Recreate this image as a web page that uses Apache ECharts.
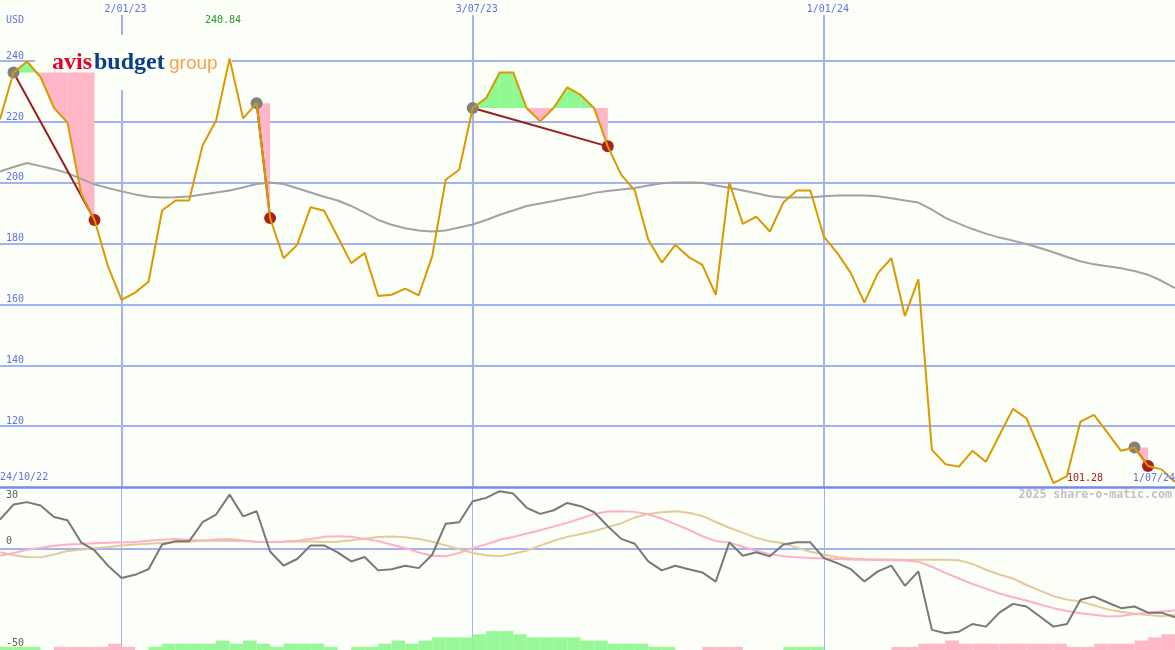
<!DOCTYPE html>
<html><head><meta charset="utf-8">
<script src="https://cdn.jsdelivr.net/npm/echarts@6/dist/echarts.min.js"></script>
<style>html,body{margin:0;padding:0;background:#fcfef8}#c{width:1175px;height:650px}</style>
</head><body><div id="c"></div>
<script>
// ---- data (weekly closes, Avis Budget Group, USD) ----
const weekCount = 88;
const weeks = Array.from({length: weekCount}, (_, i) => {
  const d = new Date(Date.UTC(2022, 9, 31 + 7 * i));
  return d.getUTCDate() + '/' + String(d.getUTCMonth() + 1).padStart(2, '0') + '/' + String(d.getUTCFullYear()).slice(2);
});
const dateMarkIdx = [9, 35, 61];

const price = [220.9,236.3,239.9,234.8,224.6,219.8,196.6,187.8,172.5,161.5,
  163.9,167.5,190.9,194.2,194.2,212.3,220.5,240.84,221.2,226.2,
  188.4,175.2,179.6,192.0,190.8,182.3,173.6,176.9,162.8,163.2,
  165.2,163.0,175.8,201.0,204.3,224.6,227.9,236.3,236.3,224.5,
  220.2,224.7,231.4,228.9,224.5,212.0,202.6,197.5,181.3,173.8,
  179.6,175.6,173.0,163.2,200.1,186.5,188.9,184.0,193.5,197.5,
  197.5,182.3,176.9,170.3,160.6,170.3,175.2,156.2,168.3,112.2,
  107.5,106.7,111.9,108.3,117.0,125.7,122.6,112.2,101.28,103.6,
  121.5,123.7,117.9,111.9,113.0,106.9,105.8,101.6];

const movingAvg = [203.7,205.2,206.5,205.5,204.5,203.2,201.3,199.5,198.3,197.2,
  196.2,195.4,195.2,195.3,195.5,196.2,196.8,197.5,198.5,199.6,
  200.1,199.6,198.2,196.8,195.4,194.2,192.4,190.2,187.8,186.2,
  185.1,184.3,184.0,184.3,185.3,186.3,187.8,189.5,190.9,192.4,
  193.2,194.0,194.9,195.7,196.7,197.3,197.8,198.3,199.1,199.9,
  200.1,200.1,200.0,199.1,198.4,197.5,196.6,195.6,195.2,195.2,
  195.2,195.6,195.8,195.8,195.8,195.6,194.9,194.2,193.5,191.2,
  188.5,186.6,184.8,183.3,182.0,181.0,179.9,178.6,177.2,175.6,
  174.2,173.2,172.6,171.9,171.0,169.8,167.8,165.4];

const oscFast = [14.2,21.6,22.8,21.1,15.5,13.9,3.0,-1.0,-8.5,-14.6,
  -13.0,-10.2,1.9,3.5,3.5,12.9,16.7,26.5,15.8,18.3,
  -1.5,-8.5,-5.2,1.5,1.5,-1.9,-6.4,-4.2,-10.8,-10.2,
  -8.5,-9.7,-3.1,12.2,12.9,23.2,24.9,28.2,27.0,20.0,
  17.0,18.8,22.4,20.8,17.8,10.9,4.7,2.3,-6.4,-10.8,
  -8.5,-10.2,-11.8,-16.3,3.0,-3.6,-1.9,-3.9,1.9,3.0,
  3.0,-4.7,-7.2,-10.2,-16.3,-11.3,-8.5,-18.4,-11.3,-40.1,
  -41.8,-41.0,-37.2,-38.5,-31.6,-27.3,-28.6,-33.5,-38.5,-37.2,
  -25.3,-23.7,-26.6,-29.4,-28.6,-31.6,-31.6,-33.9];

const oscMid = [-3.6,-2.2,-0.6,0.3,1.3,1.9,2.2,2.6,2.8,3.0,
  3.2,3.8,4.3,4.6,4.2,3.9,3.8,3.8,3.6,3.3,
  3.2,3.4,3.8,4.6,5.8,6.0,5.7,4.7,3.6,1.8,
  0.2,-2.0,-3.6,-3.9,-2.2,0.2,2.0,4.3,5.6,7.4,
  9.0,10.8,12.6,14.8,17.0,18.2,18.3,18.0,16.8,14.6,
  12.0,9.2,6.0,3.6,2.9,0.8,-1.1,-2.8,-3.9,-4.3,
  -4.7,-4.9,-5.2,-5.4,-5.6,-5.7,-5.8,-5.9,-6.5,-9.0,
  -12.0,-14.8,-17.5,-19.8,-22.2,-24.0,-25.6,-27.6,-29.4,-30.8,
  -31.9,-32.6,-33.5,-33.3,-32.3,-31.6,-31.0,-30.6];

const oscSlow = [-1.9,-3.4,-4.2,-4.4,-3.0,-1.3,-0.6,0.1,0.7,1.4,
  1.9,2.3,2.7,3.0,3.3,3.8,4.4,4.6,3.9,3.3,
  3.2,3.3,3.5,3.4,3.2,3.3,4.0,4.8,5.6,5.9,
  5.5,4.7,3.3,1.5,-0.4,-2.2,-3.4,-3.9,-2.6,-1.0,
  1.4,3.8,5.7,7.1,8.6,10.5,12.4,15.2,17.0,17.8,
  18.3,17.6,16.0,13.0,10.2,7.8,5.2,3.5,2.6,0.4,
  -1.6,-3.0,-4.3,-4.9,-5.2,-5.4,-5.5,-5.6,-5.6,-5.6,
  -5.6,-5.8,-7.6,-10.5,-12.8,-14.8,-18.0,-20.8,-23.5,-25.2,
  -26.1,-28.0,-30.0,-31.2,-32.2,-32.8,-33.4,-32.7];

// histogram between consecutive weeks (87 intervals)
const barUp = [1,1,1,0,0,0,0,0,0,0, 0,1,2,2,2,2,3,2,3,2,
  1,2,2,2,1,0,1,1,2,3, 2,3,4,4,4,5,6,6,5,4,
  4,4,4,3,3,2,2,2,1,1, 0,0,0,0,0,0,0,0,1,1,
  1,0,0,0,0,0,0,0,0,0, 0,0,0,0,0,0,0,0,0,0,
  0,0,0,0,0,0,0];
const barDown = [0,0,0,0,1,1,1,1,2,1, 0,0,0,0,0,0,0,0,0,0,
  0,0,0,0,0,0,0,0,0,0, 0,0,0,0,0,0,0,0,0,0,
  0,0,0,0,0,0,0,0,0,0, 0,0,1,1,1,0,0,0,0,0,
  0,0,0,0,0,0,1,1,2,2, 3,2,2,2,2,2,2,2,2,1,
  1,2,2,2,3,4,5];

// trades: [entry week index, exit week index]
const trades = [[1, 7], [19, 20], [35, 45], [84, 85]];

// ---- styling ----
const BG = '#fcfef8';
const GRID = '#a4b2f0';
const BLUE_TXT = '#6070e8';
const MONO = 'DejaVu Sans Mono';
const FILL_UP = '#90f890';
const FILL_DOWN = '#ffb6c6';

const chart = echarts.init(document.getElementById('c'), null, {renderer: 'canvas'});

function poly(points, up) {
  return {type: 'polygon', shape: {points: points}, style: {fill: up ? FILL_UP : FILL_DOWN}};
}
function renderFills(params, api) {
  const a = api.value(0), b = api.value(1);
  const L = price[a];
  const children = [];
  for (let i = a; i < b; i++) {
    const p0 = price[i], p1 = price[i + 1];
    const A0 = api.coord([i, L]), P0 = api.coord([i, p0]);
    const A1 = api.coord([i + 1, L]), P1 = api.coord([i + 1, p1]);
    const d0 = p0 - L, d1 = p1 - L;
    if (d0 * d1 < 0) {
      const t = d0 / (d0 - d1);
      const M = [P0[0] + t * (P1[0] - P0[0]), A0[1]];
      children.push(poly([A0, P0, M], d0 > 0));
      children.push(poly([M, P1, A1], d1 > 0));
    } else {
      children.push(poly([A0, P0, P1, A1], d0 + d1 > 0));
    }
  }
  return {type: 'group', children: children};
}
function renderTrade(params, api) {
  const a = api.value(0), b = api.value(1);
  const s = api.coord([a, price[a]]), e = api.coord([b, price[b]]);
  return {type: 'group', children: [
    {type: 'line', shape: {x1: s[0], y1: s[1], x2: e[0], y2: e[1]}, style: {stroke: '#9a1e1e', lineWidth: 2}},
    {type: 'circle', shape: {cx: s[0], cy: s[1], r: 6}, style: {fill: '#808080'}},
    {type: 'circle', shape: {cx: e[0], cy: e[1], r: 6}, style: {fill: '#a82020'}}
  ]};
}

const tradeData = trades.map(t => [t[0], t[1], price[t[0]]]);
const maxV = Math.max(...price), minV = Math.min(...price);
const markFn = (idx) => dateMarkIdx.includes(idx);

const option = {
  backgroundColor: BG,
  animation: false,
  grid: [
    {left: 0, right: 0, top: 15, height: 472},
    {left: 0, right: 0, top: 487.5, height: 162.5}
  ],
  xAxis: [
    {type: 'category', gridIndex: 0, data: weeks, boundaryGap: false, position: 'top',
      axisLine: {show: false, onZero: false}, axisTick: {show: false},
      axisLabel: {interval: markFn, color: BLUE_TXT, fontFamily: MONO, fontSize: 10, margin: 1, padding: [0, 0, 0, 8]},
      splitLine: {show: true, interval: markFn, lineStyle: {color: GRID, width: 2}}},
    {type: 'category', gridIndex: 1, data: weeks, boundaryGap: false, position: 'top',
      axisLine: {show: true, onZero: false, lineStyle: {color: '#7888ee', width: 2.5}}, axisTick: {show: false},
      axisLabel: {show: false},
      splitLine: {show: true, interval: markFn, lineStyle: {color: GRID, width: 1}}},
    {type: 'category', gridIndex: 1, data: weeks.slice(0, weekCount - 1), boundaryGap: true, show: false,
      axisLine: {onZero: false}}
  ],
  yAxis: [
    {type: 'value', gridIndex: 0, position: 'left', min: 100, max: 255.18, interval: 20,
      axisLine: {show: false}, axisTick: {show: false},
      axisLabel: {inside: true, margin: 6, verticalAlign: 'bottom', showMinLabel: false, showMaxLabel: false,
        color: BLUE_TXT, fontFamily: MONO, fontSize: 10},
      splitLine: {show: true, showMinLine: false, showMaxLine: false, lineStyle: {color: GRID, width: 2}}},
    {type: 'value', gridIndex: 1, position: 'left', min: -50, max: 30, interval: 50,
      axisLine: {show: false}, axisTick: {show: false},
      axisLabel: {inside: true, margin: 6, verticalAlign: 'bottom', showMaxLabel: false, padding: [0, 0, 2, 0],
        color: '#606060', fontFamily: MONO, fontSize: 10},
      splitLine: {show: true, showMinLine: false, showMaxLine: false, lineStyle: {color: GRID, width: 2}}},
    {type: 'value', gridIndex: 1, position: 'left', min: -50, max: 30, interval: 10,
      axisLine: {show: false}, axisTick: {show: false}, splitLine: {show: false},
      axisLabel: {inside: true, margin: 6, verticalAlign: 'top', padding: [3, 0, 0, 0],
        formatter: v => (v === 30 ? '30' : ''), color: '#606060', fontFamily: MONO, fontSize: 10}},
    {type: 'value', gridIndex: 1, position: 'left', min: 0, max: 51.6, show: false}
  ],
  series: [
    {type: 'custom', name: 'fills', xAxisIndex: 0, yAxisIndex: 0, z: 2, renderItem: renderFills,
      encode: {x: 0, y: 2}, data: tradeData, silent: true},
    {type: 'line', name: 'ma', xAxisIndex: 0, yAxisIndex: 0, z: 3, data: movingAvg, showSymbol: false,
      lineStyle: {color: '#a2a2a2', width: 2}},
    {type: 'custom', name: 'trades', xAxisIndex: 0, yAxisIndex: 0, z: 4, renderItem: renderTrade,
      encode: {x: 0, y: 2}, data: tradeData, silent: true},
    {type: 'line', name: 'price', xAxisIndex: 0, yAxisIndex: 0, z: 5, data: price, showSymbol: false,
      lineStyle: {color: '#d99a00', width: 2}},
    {type: 'bar', name: 'up', xAxisIndex: 2, yAxisIndex: 3, data: barUp, barCategoryGap: '0%', barGap: '-100%',
      itemStyle: {color: '#98f898'}, z: 2},
    {type: 'bar', name: 'down', xAxisIndex: 2, yAxisIndex: 3, data: barDown, barCategoryGap: '0%', barGap: '-100%',
      itemStyle: {color: '#ffb8c8'}, z: 2},
    {type: 'line', name: 'slow', xAxisIndex: 1, yAxisIndex: 1, z: 3, data: oscSlow, showSymbol: false,
      lineStyle: {color: '#e2cb98', width: 2}},
    {type: 'line', name: 'mid', xAxisIndex: 1, yAxisIndex: 1, z: 3, data: oscMid, showSymbol: false,
      lineStyle: {color: '#ffb0c8', width: 2}},
    {type: 'line', name: 'fast', xAxisIndex: 1, yAxisIndex: 1, z: 4, data: oscFast, showSymbol: false,
      lineStyle: {color: '#787878', width: 2}}
  ],
  graphic: [
    {type: 'rect', z: 1, shape: {x: 35, y: 35, width: 197, height: 55}, style: {fill: BG}},
    {type: 'text', z: 20, left: 52, top: 51, style: {text: 'avis', fill: '#e4002b', font: 'bold 24px "Liberation Serif"'}},
    {type: 'text', z: 20, left: 94, top: 51, style: {text: 'budget', fill: '#0b3d8c', font: 'bold 24px "Liberation Serif"'}},
    {type: 'text', z: 20, left: 169, top: 54, style: {text: 'group', fill: '#f5a24c', font: '19px "Liberation Sans"'}},
    {type: 'text', z: 20, left: 6, top: 15, style: {text: 'USD', fill: BLUE_TXT, font: '10px "DejaVu Sans Mono"'}},
    {type: 'text', z: 20, left: 205, top: 15, style: {text: maxV.toFixed(2), fill: '#229922', font: '10px "DejaVu Sans Mono"'}},
    {type: 'text', z: 20, left: 1067, top: 473, style: {text: minV.toFixed(2), fill: '#a82020', font: '10px "DejaVu Sans Mono"'}},
    {type: 'text', z: 20, right: 0, top: 473, style: {text: weeks[weekCount - 1], fill: BLUE_TXT, font: '10px "DejaVu Sans Mono"'}},
    {type: 'text', z: 20, left: 0, top: 472, style: {text: '24/10/22', fill: BLUE_TXT, font: '10px "DejaVu Sans Mono"'}},
    {type: 'text', z: 20, right: 3, top: 489, style: {text: '2025 share-o-matic.com', fill: '#c2c2c2', font: 'bold 11.6px "DejaVu Sans Mono"'}}
  ]
};
chart.setOption(option);
</script></body></html>
